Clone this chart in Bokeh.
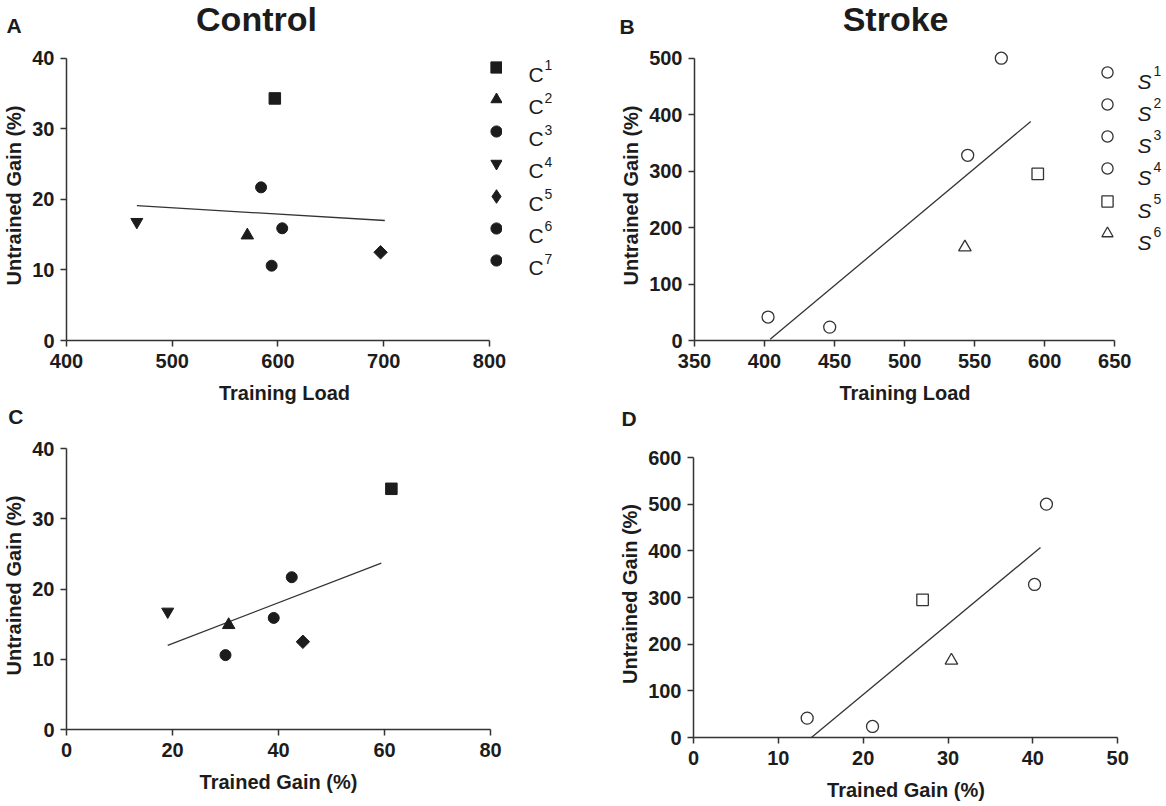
import math
from bokeh.plotting import figure
from bokeh.models import (Range1d, FixedTicker, Label, Legend, LegendItem,
                          ColumnDataSource, Div, Spacer)
from bokeh.layouts import row, column
from bokeh.embed import file_html
from bokeh.resources import INLINE

# ---------------- data ----------------
control_ids = ["1", "2", "3", "4", "5", "6", "7"]
control_load = [597, 571, 584, 466.5, 697, 604, 594]
control_trained_gain = [61.3, 30.6, 42.5, 19.1, 44.6, 39.1, 30.0]
control_untrained_gain = [34.3, 14.9, 21.7, 16.8, 12.5, 15.9, 10.6]

stroke_ids = ["1", "2", "3", "4", "5", "6"]
stroke_load = [569, 545, 402.5, 446.5, 595, 543]
stroke_trained_gain = [41.6, 40.2, 13.4, 21.1, 27.0, 30.4]
stroke_untrained_gain = [500, 328, 41.5, 23.7, 295, 165]

# regression lines (end points)
fit_a_x = [466.5, 701]
fit_a_y = [19.1, 17.0]
fit_b_x = [404, 590]
fit_b_y = [2, 388]
fit_c_x = [19.1, 59.4]
fit_c_y = [12.0, 23.7]
fit_d_x = [13.9, 40.9]
fit_d_y = [0, 407]

# ticks
ticks_a_x = [400, 500, 600, 700, 800]
ticks_a_y = [0, 10, 20, 30, 40]
ticks_b_x = [350, 400, 450, 500, 550, 600, 650]
ticks_b_y = [0, 100, 200, 300, 400, 500]
ticks_c_x = [0, 20, 40, 60, 80]
ticks_c_y = [0, 10, 20, 30, 40]
ticks_d_x = [0, 10, 20, 30, 40, 50]
ticks_d_y = [0, 100, 200, 300, 400, 500, 600]

group_titles = ["Control", "Stroke"]
panel_letters = ["A", "B", "C", "D"]
control_letter = "C"
stroke_letter = "S"

# ---------------- styles ----------------
FONT = "Liberation Sans"
INK = "#1c1c1c"
AXC = "#333333"
control_marker = ["square", "triangle", "circle", "inverted_triangle", "square", "circle", "circle"]
control_angle = [0, 0, 0, 0, math.pi / 4, 0, 0]
control_size = [11.5, 12.5, 11, 12, 9.5, 11, 11]
control_legend_marker = ["square", "triangle", "circle", "inverted_triangle", "diamond", "circle", "circle"]
control_legend_box = [28, 28, 28, 28, 34, 28, 28]
stroke_marker = ["circle", "circle", "circle", "circle", "square", "triangle"]
stroke_size = [12, 12, 12, 12, 11.5, 12.5]

PAD_T = 7
PITCH = 32.2


class Frame:
    """Figure whose frame edges are placed at given page pixels."""

    def __init__(self, fig, axis_px, xt, yt, pad_r=0, pad_t=PAD_T, axes=True):
        ox, oy, w, h = fig
        xl, xr, yb, yt_px = axis_px
        left = round(xl - ox)
        right = math.floor(ox + w - (xr + pad_r))
        top = math.floor(yt_px - pad_t - oy)
        bottom = round(oy + h - yb)
        self.left_px = ox + left
        self.right_px = ox + w - right
        self.top_px = oy + top
        self.bottom_px = oy + h - bottom
        if axes:
            sx = (xt[-1] - xt[0]) / (xr - self.left_px)
            sy = (yt[-1] - yt[0]) / (self.bottom_px - yt_px)
            x_end = xt[0] + sx * (self.right_px - self.left_px)
            y_end = yt[0] + sy * (self.bottom_px - self.top_px)
            x_end = max(x_end, xt[-1]) + 1e-6 * (xt[-1] - xt[0])
            y_end = max(y_end, yt[-1]) + 1e-6 * (yt[-1] - yt[0])
            xr_ = Range1d(xt[0], x_end)
            yr_ = Range1d(yt[0], y_end)
            kw = {}
        else:
            xr_, yr_ = Range1d(0, 1), Range1d(0, 1)
            kw = dict(x_axis_type=None, y_axis_type=None)
        self.p = figure(width=w, height=h, x_range=xr_, y_range=yr_,
                        min_border_left=left, min_border_right=right,
                        min_border_top=top, min_border_bottom=bottom,
                        toolbar_location=None, tools="", output_backend="svg",
                        outline_line_color=None, background_fill_color="white",
                        border_fill_color="white", **kw)
        self.p.grid.visible = False

    def label(self, px, py, text, size, style="normal", align="left", baseline="middle"):
        self.p.add_layout(Label(x=px - self.left_px, y=self.bottom_px - py,
                                x_units="screen", y_units="screen",
                                text=text, text_font=FONT, text_font_size=size,
                                text_font_style=style, text_color=INK,
                                text_align=align, text_baseline=baseline))

    def legend_row(self, renderer, index, cx, cy, box):
        item = LegendItem(label="", renderers=[renderer], index=index)
        leg = Legend(items=[item],
                     location=(cx - box / 2 - self.left_px, self.bottom_px - (cy + box / 2)),
                     padding=0, margin=0, spacing=0, glyph_width=box, glyph_height=box,
                     label_standoff=0, label_width=0, label_height=box,
                     background_fill_alpha=0, border_line_alpha=0)
        self.p.add_layout(leg)


def style_axes(p, xt, yt, xlabel, ylabel):
    p.xaxis.ticker = FixedTicker(ticks=xt)
    p.yaxis.ticker = FixedTicker(ticks=yt)
    p.xaxis.bounds = (xt[0], xt[-1])
    p.yaxis.bounds = (yt[0], yt[-1])
    p.xaxis.axis_label = xlabel
    p.yaxis.axis_label = ylabel
    for ax in (p.xaxis[0], p.yaxis[0]):
        ax.axis_line_color = AXC
        ax.axis_line_width = 1.5
        ax.major_tick_line_color = AXC
        ax.major_tick_line_width = 1.5
        ax.major_tick_out = 6
        ax.major_tick_in = 0
        ax.minor_tick_line_color = None
        ax.major_label_text_font = FONT
        ax.major_label_text_font_size = "20px"
        ax.major_label_text_font_style = "bold"
        ax.major_label_text_color = INK
        ax.axis_label_text_font = FONT
        ax.axis_label_text_font_size = "20px"
        ax.axis_label_text_font_style = "bold"
        ax.axis_label_text_color = INK
    p.xaxis[0].major_label_standoff = 7
    p.xaxis[0].axis_label_standoff = 11
    p.yaxis[0].major_label_standoff = 6
    p.yaxis[0].axis_label_standoff = 4


def text_strip(width, height, items):
    spans = []
    for (text, cx, cy, size) in items:
        top = cy - 0.4885 * size
        spans.append(
            f'<span style="position:absolute;left:{cx}px;top:{top:.1f}px;'
            f'transform:translateX(-50%);font-family:\'{FONT}\';font-size:{size}px;'
            f'font-weight:bold;line-height:1;color:{INK};white-space:nowrap;">{text}</span>')
    html = (f'<div style="position:relative;width:{width}px;height:{height}px;'
            f'margin:0;padding:0;overflow:visible;">' + "".join(spans) + '</div>')
    return Div(text=html, width=width, height=height, margin=(0, 0, 0, 0))


# ---------------- page layout (page px, origin at top-left) ----------------
TOP_STRIP = 40
TOP_H = 366
MID_STRIP = 29
BOT_H = 806 - TOP_STRIP - TOP_H - MID_STRIP
Y_TOP = TOP_STRIP
Y_BOT = TOP_STRIP + TOP_H + MID_STRIP
D_SHIFT = 8

A_AX = (66, 489, 340, 57.7)
B_AX = (693.7, 1114.3, 340, 57.7)
C_AX = (66, 490, 729, 448.3)
D_AX = (693.4, 1117.2, 737.3, 457)

fa = Frame((0, Y_TOP, 507, TOP_H), A_AX, ticks_a_x, ticks_a_y, pad_r=13)
la = Frame((507, Y_TOP, 73, TOP_H), (507, 580, 340, 57.7), None, None, axes=False)
fb = Frame((580, Y_TOP, 552, TOP_H), B_AX, ticks_b_x, ticks_b_y)
lb = Frame((1132, Y_TOP, 34, TOP_H), (1132, 1166, 340, 57.7), None, None, axes=False)
fc = Frame((0, Y_BOT, 580, BOT_H), C_AX, ticks_c_x, ticks_c_y)
fd = Frame((580, Y_BOT + D_SHIFT, 586, BOT_H - D_SHIFT), D_AX, ticks_d_x, ticks_d_y)

control_src_a = ColumnDataSource(dict(x=control_load, y=control_untrained_gain,
                                      marker=control_marker, angle=control_angle, size=control_size))
control_src_c = ColumnDataSource(dict(x=control_trained_gain, y=control_untrained_gain,
                                      marker=control_marker, angle=control_angle, size=control_size))
control_src_key = ColumnDataSource(dict(x=control_load, y=control_untrained_gain,
                                        marker=control_legend_marker))
stroke_src_b = ColumnDataSource(dict(x=stroke_load, y=stroke_untrained_gain,
                                     marker=stroke_marker, size=stroke_size))
stroke_src_d = ColumnDataSource(dict(x=stroke_trained_gain, y=stroke_untrained_gain,
                                     marker=stroke_marker, size=stroke_size))

# ---------------- A ----------------
pa = fa.p
style_axes(pa, ticks_a_x, ticks_a_y, "Training Load", "Untrained Gain (%)")
pa.line(fit_a_x, fit_a_y, line_color=AXC, line_width=1.3)
pa.scatter("x", "y", source=control_src_a, marker="marker", angle="angle", size="size",
           fill_color=INK, line_color=INK)

# key for A: markers drawn by the legend from a hidden copy of the control data
rkey = pa.scatter("x", "y", source=control_src_key, marker="marker", size=11,
                  fill_color=INK, line_color=INK, visible=False)
for i, sid in enumerate(control_ids):
    cy = 66.8 + i * PITCH
    fa.legend_row(rkey, i, 496.3, cy, control_legend_box[i])
    la.label(528, cy + 7, control_letter, "21px")
    la.label(544, cy - 2, sid, "14px")

# ---------------- B ----------------
pb = fb.p
style_axes(pb, ticks_b_x, ticks_b_y, "Training Load", "Untrained Gain (%)")
pb.line(fit_b_x, fit_b_y, line_color=AXC, line_width=1.3)
rb = pb.scatter("x", "y", source=stroke_src_b, marker="marker", size="size",
                fill_color=None, line_color=AXC, line_width=1.3)
for i, sid in enumerate(stroke_ids):
    cy = 71.7 + i * PITCH
    fb.legend_row(rb, i, 1106.7, cy, 28)
    lb.label(1137, cy + 9, stroke_letter, "21px", style="italic")
    lb.label(1153, cy - 1.7, sid, "14px")

# ---------------- C ----------------
pc = fc.p
style_axes(pc, ticks_c_x, ticks_c_y, "Trained Gain (%)", "Untrained Gain (%)")
pc.line(fit_c_x, fit_c_y, line_color=AXC, line_width=1.3)
pc.scatter("x", "y", source=control_src_c, marker="marker", angle="angle", size="size",
           fill_color=INK, line_color=INK)

# ---------------- D ----------------
pd_ = fd.p
style_axes(pd_, ticks_d_x, ticks_d_y, "Trained Gain (%)", "Untrained Gain (%)")
pd_.line(fit_d_x, fit_d_y, line_color=AXC, line_width=1.3)
pd_.scatter("x", "y", source=stroke_src_d, marker="marker", size="size",
            fill_color=None, line_color=AXC, line_width=1.3)

# ---------------- titles and panel letters ----------------
top_strip = text_strip(1166, TOP_STRIP, [
    (panel_letters[0], 14, 25.5, 21),
    (group_titles[0], 256.5, 18.3, 34),
    (panel_letters[1], 627, 25.8, 21),
    (group_titles[1], 895.6, 18.3, 34),
])
mid0 = TOP_STRIP + TOP_H
mid_strip = text_strip(1166, MID_STRIP, [
    (panel_letters[2], 15.8, 416.7 - mid0, 21),
    (panel_letters[3], 629, 418.3 - mid0, 21),
])

layout = column(top_strip,
                row(pa, la.p, pb, lb.p),
                mid_strip,
                row(pc, column(Spacer(width=586, height=D_SHIFT), pd_)))
open("out.html", "w").write(file_html(layout, INLINE))
